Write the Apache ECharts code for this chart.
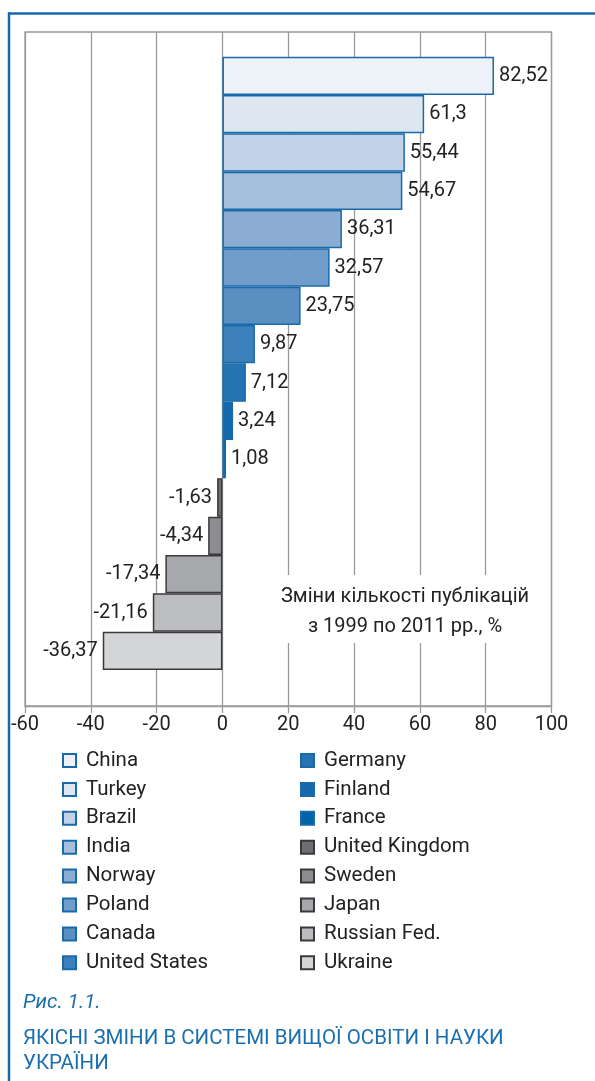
<!DOCTYPE html>
<html><head><meta charset="utf-8">
<script src="https://cdn.jsdelivr.net/npm/echarts@6/dist/echarts.min.js"></script>
<style>html,body{margin:0;padding:0;background:#fff}#c{width:595px;height:1081px}</style>
</head><body><div id="c"></div>
<script>
const countries = ['China','Turkey','Brazil','India','Norway','Poland','Canada','United States','Germany','Finland','France','United Kingdom','Sweden','Japan','Russian Fed.','Ukraine'];
const values = [82.52, 61.3, 55.44, 54.67, 36.31, 32.57, 23.75, 9.87, 7.12, 3.24, 1.08, -1.63, -4.34, -17.34, -21.16, -36.37];
const xMin = -60, xMax = 100, xStep = 20;
const noteLines = ['Зміни кількості публікацій', 'з 1999 по 2011 рр., %'];
const figLabel = 'Рис. 1.1.';
const figTitle = ['ЯКІСНІ ЗМІНИ В СИСТЕМІ ВИЩОЇ ОСВІТИ І НАУКИ', 'УКРАЇНИ'];

const fills = ['#edf2f9','#dde7f1','#c1d3e8','#a5bfdd','#8badd3','#709dc9','#5a8fc2','#3c81bb','#2574b2','#1369ac','#0064a8','#6e6f73','#8c8d91','#a7a8ab','#bcbdc0','#d4d5d7'];
const FONT = 'Roboto';
const fmt = v => String(v).replace('.', ',');

const series = countries.map((name, i) => ({
  name: name,
  type: 'bar',
  stack: 'all',
  xAxisIndex: 0, yAxisIndex: 0,
  barWidth: '100%',
  data: countries.map((c, j) => j === i ? values[i] : '-'),
  itemStyle: {
    color: fills[i],
    borderColor: values[i] >= 0 ? '#1a6aaa' : '#3a3a3c',
    borderWidth: 1.5
  },
  label: {
    show: true,
    position: values[i] >= 0 ? 'right' : 'left',
    distance: 5,
    formatter: p => fmt(p.value),
    fontFamily: FONT, fontSize: 20, color: '#222'
  }
}));

const legendBase = {
  orient: 'vertical', padding: 0, itemWidth: 13, itemHeight: 13, itemGap: 7.9,
  icon: 'rect', selectedMode: false,
  textStyle: { fontFamily: FONT, fontSize: 20.5, color: '#222', padding: [0, 0, 0, 5] }
};

const option = {
  animation: false,
  backgroundColor: '#fff',
  grid: [
    { left: 25, right: 43.5, top: 56.7, height: 613.3, containLabel: false },
    { left: 25, right: 43.5, top: 32, bottom: 375, show: true, borderColor: '#9a9a9a', borderWidth: 1.3, backgroundColor: 'transparent' }
  ],
  xAxis: [
    { gridIndex: 0, type: 'value', min: xMin, max: xMax, interval: xStep, show: false },
    { gridIndex: 1, type: 'value', min: xMin, max: xMax, interval: xStep,
      axisLine: { show: true, lineStyle: { color: '#9a9a9a', width: 1.3 } },
      axisTick: { show: true, length: 7, lineStyle: { color: '#9a9a9a', width: 1.3 } },
      splitLine: { show: true, lineStyle: { color: '#9a9a9a', width: 1.3 } },
      axisLabel: { fontFamily: FONT, fontSize: 20, color: '#222', margin: 9 } }
  ],
  yAxis: [
    { gridIndex: 0, type: 'category', data: countries, inverse: true, show: false },
    { gridIndex: 1, type: 'value', min: 0, max: 1, show: false }
  ],
  legend: [
    Object.assign({}, legendBase, { left: 62, top: 750, data: countries.slice(0, 8) }),
    Object.assign({}, legendBase, { left: 300, top: 750, data: countries.slice(8) })
  ],
  graphic: [
    { type: 'line', z: 10, shape: { x1: 8, y1: 13.5, x2: 595, y2: 13.5 }, style: { stroke: '#1769ad', lineWidth: 2.5 } },
    { type: 'line', z: 10, shape: { x1: 9, y1: 12.3, x2: 9, y2: 1081 }, style: { stroke: '#1769ad', lineWidth: 2.5 } },
    { type: 'rect', z: 5, shape: { x: 268, y: 575, width: 277, height: 68 }, style: { fill: '#fff' } },
    { type: 'text', z: 6, style: { x: 405, y: 597, text: noteLines[0], align: 'center', verticalAlign: 'middle', font: '20px ' + FONT, fill: '#222' } },
    { type: 'text', z: 6, style: { x: 405, y: 627, text: noteLines[1], align: 'center', verticalAlign: 'middle', font: '20px ' + FONT, fill: '#222' } },
    { type: 'text', z: 6, style: { x: 23, y: 1003, text: figLabel, verticalAlign: 'middle', font: 'italic 20.5px ' + FONT, fill: '#1a6fb0' } },
    { type: 'text', z: 6, style: { x: 23, y: 1039, text: figTitle[0], verticalAlign: 'middle', font: '20.5px ' + FONT, fill: '#1a6fb0' } },
    { type: 'text', z: 6, style: { x: 23, y: 1064, text: figTitle[1], verticalAlign: 'middle', font: '20.5px ' + FONT, fill: '#1a6fb0' } }
  ],
  series: series
};

const chart = echarts.init(document.getElementById('c'), null, { renderer: 'canvas' });
chart.setOption(option);
</script>
</body></html>
